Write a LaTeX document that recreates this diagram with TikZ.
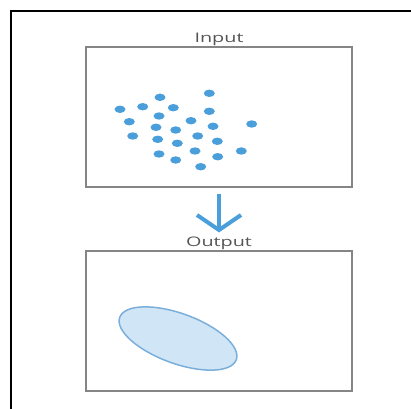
\documentclass[tikz,border=0pt]{standalone}
\usepackage{fontspec}
\setmainfont{Open Sans}
\definecolor{dotblue}{HTML}{4A9FDB}
\definecolor{ellfill}{HTML}{D0E6F7}
\definecolor{elldraw}{HTML}{7AAFDB}
\definecolor{boxgray}{HTML}{858585}
\definecolor{txtgray}{HTML}{555555}
\tikzset{
  panel/.style={draw=boxgray, line width=1.6pt, minimum width=266pt, minimum height=140pt, inner sep=0pt},
  lbl/.style={text=txtgray, font=\fontsize{13.2}{15}\selectfont, xscale=1.5, anchor=base, inner sep=0pt},
  pt/.style={fill=dotblue, draw=none},
  arr/.style={draw=dotblue, line width=4pt, line cap=butt, line join=miter},
}
\begin{document}
\begin{tikzpicture}[x=1pt,y=1pt]
\useasboundingbox (0,0) rectangle (411,408);
\fill[white] (0,0) rectangle (411,408);
% outer frame (left and top edges visible)
\draw[black, line width=2.2pt] (11,-5) -- (11,397) -- (420,397);
% panels
\node[panel] (inbox) at (219,291) {};
\node[panel] (outbox) at (219,87) {};
\node[lbl] (inlbl) at (219,366) {Input};
\node[lbl] (outlbl) at (219,162) {Output};
% arrow
\coordinate (arrtop) at (219,214);
\coordinate (arrtip) at (219,178);
\coordinate (armL) at (197,193);
\coordinate (armR) at (241,193);
\draw[arr] (arrtop) -- ([yshift=2pt]arrtip);
\draw[arr] (armL) -- (arrtip) -- (armR);
% dots
\foreach \x/\y in {160/310.7, 209.3/314.7, 120/298.7, 142.7/301.3, 173.3/300.3, 209.3/296.7,
  159/292, 191/287.3, 129.3/286.3, 156/280.7, 175.7/278, 213/281.7, 251.7/284,
  132.7/272, 157.7/268.7, 177.3/264.7, 197.7/272, 217.3/266.7,
  159/254, 195/257, 217.7/251.3, 241.3/257, 175.7/248, 200.7/241.3}
  \fill[pt] (\x,\y) ellipse [x radius=5.5, y radius=3.7];
% output ellipse
\draw[fill=ellfill, draw=elldraw, line width=1.5pt, rotate around={-20:(178,69.5)}]
  (178,69.5) ellipse [x radius=62, y radius=25];
\end{tikzpicture}
\end{document}
